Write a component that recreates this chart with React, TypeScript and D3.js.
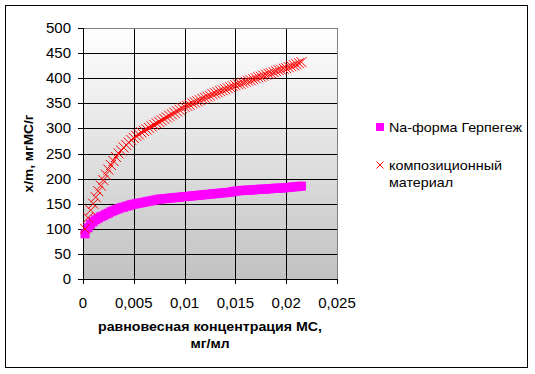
import React from "react";
import * as d3 from "d3";

const xTicks = [0, 0.005, 0.01, 0.015, 0.02, 0.025];
const xTickLabels = ["0", "0,005", "0,01", "0,015", "0,02", "0,025"];
const yTicks = [0, 50, 100, 150, 200, 250, 300, 350, 400, 450, 500];

const seriesNames = ["Na-форма Герпегеж", "композиционный материал"];

const conc = [
  0.0002, 0.0005, 0.00075, 0.001, 0.00125, 0.0015, 0.00175, 0.002, 0.00225, 0.0025,
  0.00275, 0.003, 0.00325, 0.0035, 0.00375, 0.004, 0.00425, 0.0045, 0.00475, 0.005,
  0.00525, 0.0055, 0.00575, 0.006, 0.00625, 0.0065, 0.00675, 0.007, 0.00725, 0.0075,
  0.00775, 0.008, 0.00825, 0.0085, 0.00875, 0.009, 0.00925, 0.0095, 0.00975, 0.01,
  0.01025, 0.0105, 0.01075, 0.011, 0.01125, 0.0115, 0.01175, 0.012, 0.01225, 0.0125,
  0.01275, 0.013, 0.01325, 0.0135, 0.01375, 0.014, 0.01425, 0.0145, 0.01475, 0.015,
  0.01525, 0.0155, 0.01575, 0.016, 0.01625, 0.0165, 0.01675, 0.017, 0.01725, 0.0175,
  0.01775, 0.018, 0.01825, 0.0185, 0.01875, 0.019, 0.01925, 0.0195, 0.01975, 0.02,
  0.02025, 0.0205, 0.02075, 0.021, 0.02125, 0.0215,
];
const naForm = [
  90, 102, 109, 114, 118, 121, 124, 126, 129, 131,
  134, 136, 138, 140, 142, 143, 145, 146, 148, 149,
  150, 151, 152, 153, 154, 155, 156, 157, 158, 159,
  159.5, 160, 160.5, 161, 161.5, 162, 162.5, 163, 163.5, 164,
  164.5, 165, 165.5, 166, 166.5, 167, 167.5, 168, 168.5, 169,
  169.5, 170, 170.5, 171, 171.5, 172, 172.5, 173, 174, 175,
  175.5, 176, 176.5, 177, 177, 177, 177.5, 178, 178.5, 179,
  179, 179, 179.5, 180, 180.5, 181, 181, 181, 181.5, 182,
  182.5, 183, 183.5, 184, 184.5, 185,
];
const composite = [
  100, 122, 137, 150, 163, 175, 186, 197, 208, 218,
  227, 235, 243, 250, 256, 262, 267, 272, 277, 281,
  285, 288, 292, 295, 298, 301, 304, 307, 310, 313,
  316, 319, 322, 325, 328, 331, 334, 337, 340, 343,
  345, 347, 350, 352, 354, 356, 359, 361, 363, 365,
  368, 370, 372, 374, 376, 378, 380, 382, 384, 386,
  388, 389, 391, 393, 395, 396, 398, 400, 402, 403,
  405, 407, 409, 410, 412, 414, 416, 417, 419, 420,
  422, 424, 426, 428, 430, 432,
];

const W = 535;
const H = 374;
const plot = { left: 83, top: 28, right: 337, bottom: 279 };
const FONT = "Liberation Sans, Arial, sans-serif";

export default function App() {
  const x = d3.scaleLinear().domain([0, 0.025]).range([plot.left, plot.right]);
  const y = d3.scaleLinear().domain([0, 500]).range([plot.bottom, plot.top]);
  const sq = 9;
  const xs = 5;

  return (
    <svg
      width={W}
      height={H}
      style={{ position: "absolute", left: 0, top: 0 }}
      fontFamily={FONT}
    >
      <defs>
        <linearGradient id="bg" x1="0" y1="0" x2="0" y2="1">
          <stop offset="0" stopColor="#ffffff" />
          <stop offset="1" stopColor="#c2c2c2" />
        </linearGradient>
      </defs>
      <rect x={0} y={0} width={W} height={H} fill="#fff" />
      <rect x={5.5} y={5.5} width={522} height={362} fill="#fff" stroke="#000" strokeWidth={1} />
      <rect
        x={plot.left}
        y={plot.top}
        width={plot.right - plot.left}
        height={plot.bottom - plot.top}
        fill="url(#bg)"
      />
      {yTicks.slice(1, -1).map((t) => (
        <line key={"gy" + t} x1={plot.left} x2={plot.right} y1={Math.round(y(t)) + 0.5} y2={Math.round(y(t)) + 0.5} stroke="#000" />
      ))}
      {xTicks.slice(1, -1).map((t) => (
        <line key={"gx" + t} y1={plot.top} y2={plot.bottom} x1={Math.round(x(t)) + 0.5} x2={Math.round(x(t)) + 0.5} stroke="#000" />
      ))}
      <line x1={plot.left} x2={plot.right + 0.5} y1={plot.top + 0.5} y2={plot.top + 0.5} stroke="#808080" />
      <line x1={plot.right + 0.5} x2={plot.right + 0.5} y1={plot.top} y2={plot.bottom} stroke="#808080" />
      <line x1={plot.left + 0.5} x2={plot.left + 0.5} y1={plot.top} y2={plot.bottom + 0.5} stroke="#000" />
      <line x1={plot.left} x2={plot.right + 0.5} y1={plot.bottom + 0.5} y2={plot.bottom + 0.5} stroke="#000" />
      {yTicks.map((t) => (
        <g key={"ty" + t}>
          <line x1={plot.left - 5} x2={plot.left} y1={Math.round(y(t)) + 0.5} y2={Math.round(y(t)) + 0.5} stroke="#000" />
          <text x={71} y={y(t) + 5} textAnchor="end" fontSize={15} fill="#000">
            {t}
          </text>
        </g>
      ))}
      {xTicks.map((t, i) => (
        <g key={"tx" + t}>
          <line x1={Math.round(x(t)) + 0.5} x2={Math.round(x(t)) + 0.5} y1={plot.bottom} y2={plot.bottom + 5} stroke="#000" />
          <text x={x(t)} y={308} textAnchor="middle" fontSize={15} fill="#000">
            {xTickLabels[i]}
          </text>
        </g>
      ))}
      {conc.map((c, i) => (
        <rect key={"m" + i} x={x(c) - sq / 2} y={y(naForm[i]) - sq / 2} width={sq} height={sq} fill="#ff00ff" />
      ))}
      {conc.map((c, i) => {
        const cx = x(c);
        const cy = y(composite[i]);
        return (
          <path
            key={"r" + i}
            d={`M${cx - xs},${cy - xs}L${cx + xs},${cy + xs}M${cx - xs},${cy + xs}L${cx + xs},${cy - xs}`}
            stroke="#ff0000"
            strokeWidth={1}
            fill="none"
          />
        );
      })}
      <text x={210} y={331} textAnchor="middle" fontSize={12.5} fontWeight="bold" fill="#000" textLength={224} lengthAdjust="spacingAndGlyphs">
        равновесная концентрация МС,
      </text>
      <text x={210} y={348} textAnchor="middle" fontSize={12.5} fontWeight="bold" fill="#000" textLength={39} lengthAdjust="spacingAndGlyphs">
        мг/мл
      </text>
      <text
        transform={`translate(33,${(plot.top + plot.bottom) / 2}) rotate(-90)`}
        textAnchor="middle"
        fontSize={12.5}
        fontWeight="bold"
        fill="#000"
        textLength={78}
        lengthAdjust="spacingAndGlyphs"
      >
        x/m, мгМС/г
      </text>
      <rect x={376} y={123} width={8} height={8} fill="#ff00ff" />
      <text x={389} y={132} fontSize={13.5} fill="#000" textLength={133} lengthAdjust="spacingAndGlyphs">
        {seriesNames[0]}
      </text>
      <path d="M376.5,161.5L383.5,168.5M376.5,168.5L383.5,161.5" stroke="#ff0000" strokeWidth={1} />
      <text x={389} y={170} fontSize={13.5} fill="#000" textLength={113} lengthAdjust="spacingAndGlyphs">
        композиционный
      </text>
      <text x={389} y={187} fontSize={13.5} fill="#000" textLength={64} lengthAdjust="spacingAndGlyphs">
        материал
      </text>
    </svg>
  );
}
